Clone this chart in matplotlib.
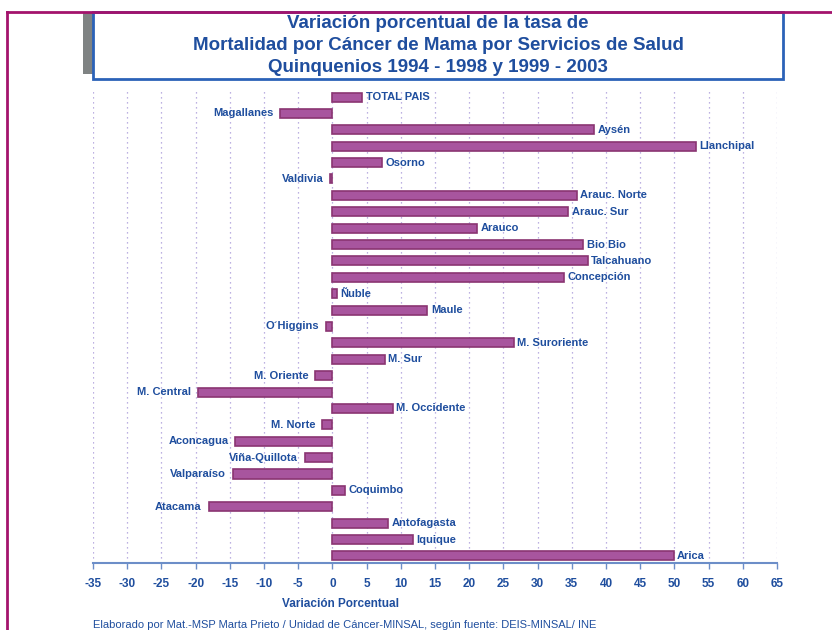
import matplotlib
matplotlib.use("Agg")
import matplotlib.pyplot as plt
from matplotlib.patches import Rectangle

plt.rcParams['font.family'] = ['Liberation Sans Narrow', 'Liberation Sans', 'DejaVu Sans']

servicios = ['TOTAL PAIS', 'Magallanes', 'Aysén', 'Llanchipal', 'Osorno', 'Valdivia',
             'Arauc. Norte', 'Arauc. Sur', 'Arauco', 'Bio Bio', 'Talcahuano', 'Concepción',
             'Ñuble', 'Maule', "O´Higgins", 'M. Suroriente', 'M. Sur', 'M. Oriente',
             'M. Central', 'M. Occidente', 'M. Norte', 'Aconcagua', 'Viña-Quillota',
             'Valparaíso', 'Coquimbo', 'Atacama', 'Antofagasta', 'Iquique', 'Arica']
variacion = [4.4, -7.6, 38.3, 53.2, 7.3, -0.3,
             35.7, 34.5, 21.2, 36.7, 37.3, 33.8,
             0.6, 13.9, -1.0, 26.5, 7.7, -2.5,
             -19.6, 8.8, -1.5, -14.2, -4.0,
             -14.6, 1.8, -18.1, 8.2, 11.8, 49.9]
ticks = list(range(-35, 70, 5))

azul = '#1F4E9E'
W, H = 832, 630
fig = plt.figure(figsize=(W / 100, H / 100), dpi=100)

# marco magenta y caja del titulo
fig.add_artist(plt.Line2D([7 / W, 7 / W], [0, 1 - 12 / H], color='#A3136C', lw=2))
fig.add_artist(plt.Line2D([7 / W, 1], [1 - 12 / H, 1 - 12 / H], color='#A3136C', lw=2))
fig.add_artist(Rectangle((83 / W, 1 - 74 / H), 10 / W, 62 / H, transform=fig.transFigure,
                         facecolor='#7F8383', edgecolor='none'))
fig.add_artist(Rectangle((93 / W, 1 - 79 / H), 690 / W, 67 / H, transform=fig.transFigure,
                         facecolor='white', edgecolor='#2B62B8', lw=2))
titulo = ['Variación porcentual de la tasa de',
          'Mortalidad por Cáncer de Mama por Servicios de Salud',
          'Quinquenios 1994 - 1998 y 1999 - 2003']
for k, t in enumerate(titulo):
    fig.text(438 / W, 1 - (23 + 22.5 * k) / H, t, ha='center', va='center',
             fontsize=13.5, fontweight='bold', color=azul)

ax = fig.add_axes([93 / W, 67 / H, 684 / W, 475 / H])
y = list(range(len(servicios)))
ax.barh(y, variacion, height=0.55, color='#A8559E', edgecolor='#8A3572', linewidth=1.2)
for yi, v, name in zip(y, variacion, servicios):
    if v >= 0:
        ax.text(v + 0.5, yi, name, ha='left', va='center', fontsize=8,
                fontweight='bold', color=azul)
    else:
        ax.text(v - 1.0, yi, name, ha='right', va='center', fontsize=8,
                fontweight='bold', color=azul)

ax.set_xlim(-35, 65)
ax.set_ylim(len(servicios) - 1 + 0.43, -0.55)
ax.set_xticks(ticks)
ax.set_xticklabels([str(t) for t in ticks], fontsize=8.5, fontweight='bold', color=azul)
ax.set_yticks([])
ax.grid(axis='x', linestyle=(0, (1, 3)), color='#A898D8', lw=0.9)
ax.set_axisbelow(True)
for s in ['top', 'right', 'left']:
    ax.spines[s].set_visible(False)
ax.spines['bottom'].set_color('#6C8EC8')
ax.spines['bottom'].set_linewidth(1.5)
ax.tick_params(axis='x', colors='#6C8EC8', length=4, width=1, pad=7, labelcolor=azul)

fig.text(340 / W, 1 - 604 / H, 'Variación Porcentual', ha='center', va='center',
         fontsize=8.5, fontweight='bold', color=azul)
fig.text(93 / W, 1 - 625 / H,
         'Elaborado por Mat.-MSP Marta Prieto / Unidad de Cáncer-MINSAL, según fuente: DEIS-MINSAL/ INE',
         ha='left', va='center', fontsize=8, color=azul)

fig.savefig('out.png', dpi=100)
